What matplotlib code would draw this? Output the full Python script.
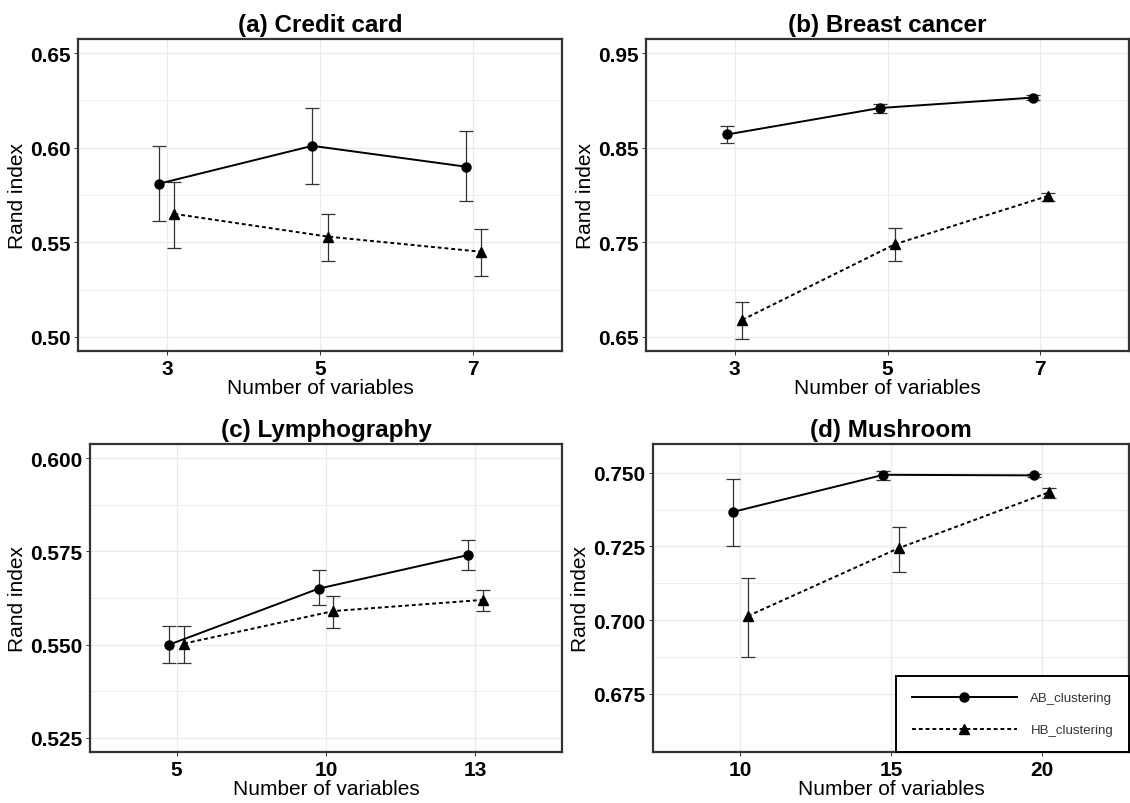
import matplotlib
matplotlib.use("Agg")
import matplotlib.pyplot as plt
import numpy as np

plt.rcParams['font.family'] = ['Liberation Sans', 'DejaVu Sans']

# panel data: x categories, AB / HB means with lower and upper error bounds
titles = ['(a) Credit card', '(b) Breast cancer', '(c) Lymphography', '(d) Mushroom']
x_labels = [['3', '5', '7'], ['3', '5', '7'], ['5', '10', '13'], ['10', '15', '20']]

ab_mean = [[0.581, 0.601, 0.590], [0.864, 0.892, 0.903],
           [0.550, 0.565, 0.574], [0.7367, 0.7493, 0.7491]]
ab_low = [[0.561, 0.581, 0.572], [0.855, 0.887, 0.901],
          [0.545, 0.5605, 0.570], [0.725, 0.7474, 0.7487]]
ab_high = [[0.601, 0.621, 0.609], [0.873, 0.896, 0.906],
           [0.555, 0.570, 0.578], [0.748, 0.7506, 0.7496]]

hb_mean = [[0.565, 0.553, 0.545], [0.668, 0.748, 0.799],
           [0.5503, 0.559, 0.562], [0.7014, 0.7244, 0.7434]]
hb_low = [[0.547, 0.540, 0.532], [0.648, 0.730, 0.794],
          [0.545, 0.5545, 0.559], [0.6874, 0.7164, 0.7413]]
hb_high = [[0.582, 0.565, 0.557], [0.687, 0.765, 0.802],
           [0.555, 0.563, 0.5647], [0.7143, 0.7316, 0.7447]]

y_ticks = [[0.50, 0.55, 0.60, 0.65], [0.65, 0.75, 0.85, 0.95],
           [0.525, 0.550, 0.575, 0.600], [0.675, 0.700, 0.725, 0.750]]
y_fmt = ['%.2f', '%.2f', '%.3f', '%.3f']
y_lims = [(0.4925, 0.6575), (0.635, 0.965), (0.52125, 0.60375), (0.65525, 0.75975)]

# axes positions (left, top, right, bottom) in pixels
W, H = 1130, 804
boxes = [(78, 40, 562, 352), (646, 40, 1129, 352), (90, 445, 562, 753), (653, 445, 1129, 753)]

fig = plt.figure(figsize=(W / 100, H / 100), dpi=100)

dodge = 0.05
for i in range(4):
    l, t, r, b = boxes[i]
    ax = fig.add_axes([l / W, 1 - b / H, (r - l) / W, (b - t) / H])
    x = np.arange(1, 4)

    ax.set_xlim(0.42, 3.58)
    ax.set_ylim(*y_lims[i])

    # grid like theme_bw
    yt = y_ticks[i]
    step = yt[1] - yt[0]
    minor = [v + step / 2 for v in yt[:-1]]
    ax.set_yticks(yt)
    ax.set_yticks(minor, minor=True)
    ax.set_xticks(x)
    ax.grid(True, which='major', color='#ebebeb', lw=1.0)
    ax.grid(True, which='minor', axis='y', color='#ebebeb', lw=0.6)
    ax.set_axisbelow(True)

    xa = x - dodge
    xh = x + dodge
    ab = np.array(ab_mean[i])
    hb = np.array(hb_mean[i])
    ax.errorbar(xa, ab, yerr=[ab - np.array(ab_low[i]), np.array(ab_high[i]) - ab],
                fmt='none', ecolor='#333333', elinewidth=0.9, capsize=5, capthick=0.9)
    ax.errorbar(xh, hb, yerr=[hb - np.array(hb_low[i]), np.array(hb_high[i]) - hb],
                fmt='none', ecolor='#333333', elinewidth=0.9, capsize=5, capthick=0.9)
    ax.plot(xa, ab, color='black', lw=1.4, marker='o', ms=6.5, label='AB_clustering')
    ax.plot(xh, hb, color='black', lw=1.4, ls=(0, (2, 1.5)), marker='^', ms=7.5,
            label='HB_clustering')

    ax.set_xticklabels(x_labels[i], fontsize=15, fontweight='bold')
    ax.set_yticklabels([y_fmt[i] % v for v in yt], fontsize=15, fontweight='bold')
    ax.tick_params(axis='both', which='major', length=3, width=0.7, color='#333333', pad=2.5)
    ax.tick_params(axis='y', which='minor', length=0)
    for s in ax.spines.values():
        s.set_color('#333333')
        s.set_linewidth(1.6)

    ax.set_title(titles[i], fontsize=17.5, fontweight='bold', pad=6)
    ax.set_xlabel('Number of variables', fontsize=15, labelpad=0)
    ax.set_ylabel('Rand index', fontsize=15, labelpad=2)

    if i == 3:
        leg = ax.legend(loc='lower right', bbox_to_anchor=(1, 0), borderaxespad=0,
                        fontsize=9.5, handlelength=8, handletextpad=1.0,
                        labelspacing=1.5, borderpad=1.2, fancybox=False,
                        framealpha=1, edgecolor='black')
        leg.get_frame().set_linewidth(1.4)
        for txt in leg.get_texts():
            txt.set_color('#333333')

fig.savefig('out.png', dpi=100)
